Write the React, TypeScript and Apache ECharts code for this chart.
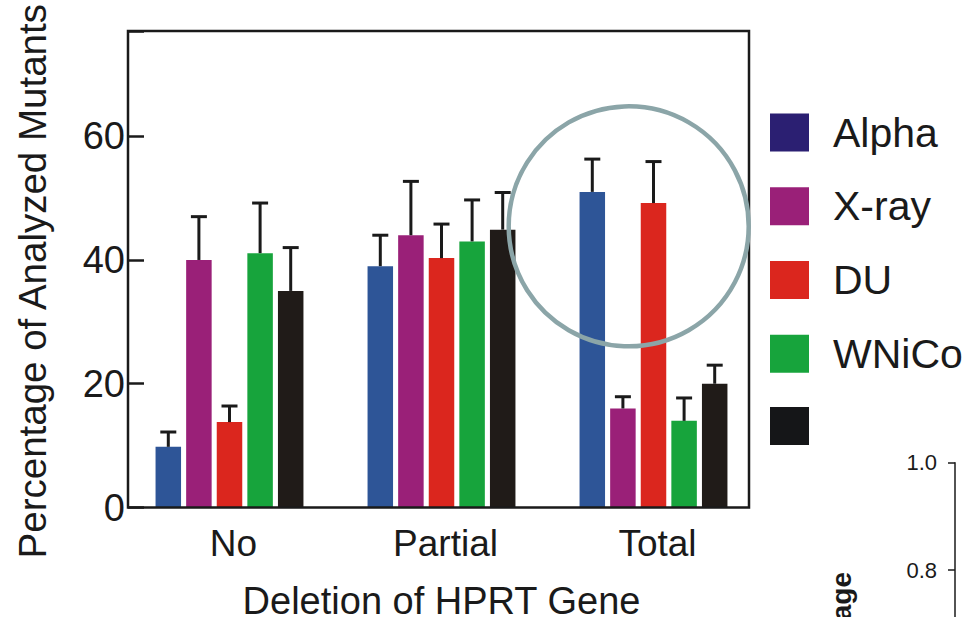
import React, { useEffect, useRef } from "react";
import * as echarts from "echarts";

const categories = ["No", "Partial", "Total"];
const seriesNames = ["Alpha", "X-ray", "DU", "WNiCo", "Other"];
const alphaValues = [9.8, 39, 51];
const alphaErr = [2.4, 5, 5.3];
const xrayValues = [40, 44, 16];
const xrayErr = [7, 8.7, 1.9];
const duValues = [13.8, 40.3, 49.2];
const duErr = [2.6, 5.5, 6.7];
const wnicoValues = [41.1, 43, 14];
const wnicoErr = [8.1, 6.7, 3.7];
const otherValues = [35, 44.9, 20];
const otherErr = [7, 6, 3];
const yTicks = [0, 20, 40, 60];
const insetTicks = [0.8, 1.0];

const barColors = ["#2e5597", "#9a2078", "#db261e", "#17a43c", "#201b18"];
const legendColors = ["#2b1f72", "#9a2078", "#db261e", "#17a43c", "#151618"];

const values = [alphaValues, xrayValues, duValues, wnicoValues, otherValues];
const errors = [alphaErr, xrayErr, duErr, wnicoErr, otherErr];

const FONT = "'Liberation Sans', Arial, Helvetica, sans-serif";
const TEXT = "#1a1a1a";
const BAR_W = 25.5;
const PITCH = 30.6;

export default function App() {
  const ref = useRef<HTMLDivElement>(null);
  useEffect(() => {
    if (!ref.current) return;
    const chart = echarts.init(ref.current, undefined, { renderer: "svg" });

    const barSeries = seriesNames.map((name, i) => ({
      type: "bar",
      name,
      xAxisIndex: 0,
      yAxisIndex: 0,
      data: values[i],
      barWidth: BAR_W,
      barGap: "20%",
      itemStyle: { color: barColors[i] },
      z: 2,
    }));

    const errSeries = seriesNames.map((name, i) => ({
      type: "custom",
      name: name + " error",
      xAxisIndex: 0,
      yAxisIndex: 0,
      z: 3,
      data: values[i].map((v, c) => [c, v, v + errors[i][c]]),
      renderItem: (params: any, api: any) => {
        const base = api.coord([api.value(0), api.value(1)]);
        const top = api.coord([api.value(0), api.value(2)]);
        const x = base[0] + (i - 2) * PITCH;
        const style = { stroke: TEXT, lineWidth: 3 };
        return {
          type: "group",
          children: [
            { type: "line", shape: { x1: x, y1: base[1], x2: x, y2: top[1] }, style },
            { type: "line", shape: { x1: x - 8, y1: top[1], x2: x + 8, y2: top[1] }, style },
          ],
        };
      },
    }));

    chart.setOption({
      animation: false,
      backgroundColor: "#ffffff",
      textStyle: { fontFamily: FONT },
      grid: [
        { left: 123.5, top: 31, width: 636, height: 476.5, outerBoundsMode: "none" },
        { left: 955, top: 462.7, width: 40, height: 154.3, outerBoundsMode: "none" },
      ],
      legend: {
        orient: "vertical",
        left: 770,
        top: 112,
        padding: 0,
        itemWidth: 39,
        itemHeight: 38,
        itemGap: 32.75,
        icon: "rect",
        data: seriesNames.map((n, i) => ({ name: n, itemStyle: { color: legendColors[i] } })),
        formatter: (n: string) => (n === "Other" ? "" : n),
        textStyle: { fontSize: 41, color: TEXT, fontFamily: FONT, lineHeight: 38, padding: [0, 0, 0, 19] },
      },
      xAxis: [
        {
          type: "category",
          gridIndex: 0,
          data: categories,
          axisLine: { show: false },
          axisTick: { show: false },
          axisLabel: { fontSize: 37, color: TEXT, margin: 17, padding: [0, 0, 0, 8] },
          name: "Deletion of HPRT Gene",
          nameLocation: "middle",
          nameGap: 78,
          nameTextStyle: { fontSize: 38, color: TEXT, lineHeight: 30 },
        },
        { type: "value", gridIndex: 1, show: false, min: 0, max: 1 },
      ],
      yAxis: [
        {
          type: "value",
          gridIndex: 0,
          min: 0,
          max: 77,
          interval: 20,
          offset: -4.5,
          splitLine: { show: false },
          axisLine: { show: false },
          axisTick: { show: true, inside: true, length: 16, lineStyle: { color: TEXT, width: 2.5 } },
          axisLabel: {
            fontSize: 38,
            color: TEXT,
            margin: 3,
            formatter: (v: number) => (yTicks.includes(v) ? String(v) : ""),
          },
          name: "Percentage of Analyzed Mutants",
          nameLocation: "middle",
          nameGap: 76,
          nameTextStyle: { fontSize: 38.5, color: TEXT, padding: [0, 24, 0, 0] },
        },
        {
          type: "value",
          gridIndex: 1,
          min: 0.7124,
          max: 1.0,
          splitLine: { show: false },
          axisLine: { show: true, lineStyle: { color: TEXT, width: 1.5 } },
          axisTick: { show: true, length: 7, customValues: insetTicks, lineStyle: { color: TEXT, width: 1.5 } },
          axisLabel: {
            fontSize: 22,
            color: TEXT,
            margin: 18,
            customValues: insetTicks,
            formatter: (v: number) => v.toFixed(1),
          },
        },
      ],
      graphic: [
        {
          type: "rect",
          shape: { x: 128, y: 31, width: 621, height: 476.5 },
          style: { fill: "none", stroke: TEXT, lineWidth: 2.5 },
          z: 10,
        },
        {
          type: "circle",
          shape: { cx: 628.7, cy: 226.3, r: 120 },
          style: { fill: "none", stroke: "#8ba5a8", lineWidth: 4.5 },
          z: 11,
        },
        {
          type: "text",
          x: 841,
          y: 572,
          rotation: Math.PI / 2,
          style: {
            text: "Percentage",
            font: "bold 28px " + FONT,
            fill: TEXT,
            textAlign: "right",
            textVerticalAlign: "middle",
          },
          z: 11,
        },
      ],
      series: [...barSeries, ...errSeries],
    });
    return () => chart.dispose();
  }, []);
  return (
    <div
      ref={ref}
      style={{ position: "fixed", left: 0, top: 0, width: 965, height: 617, background: "#fff" }}
    />
  );
}
